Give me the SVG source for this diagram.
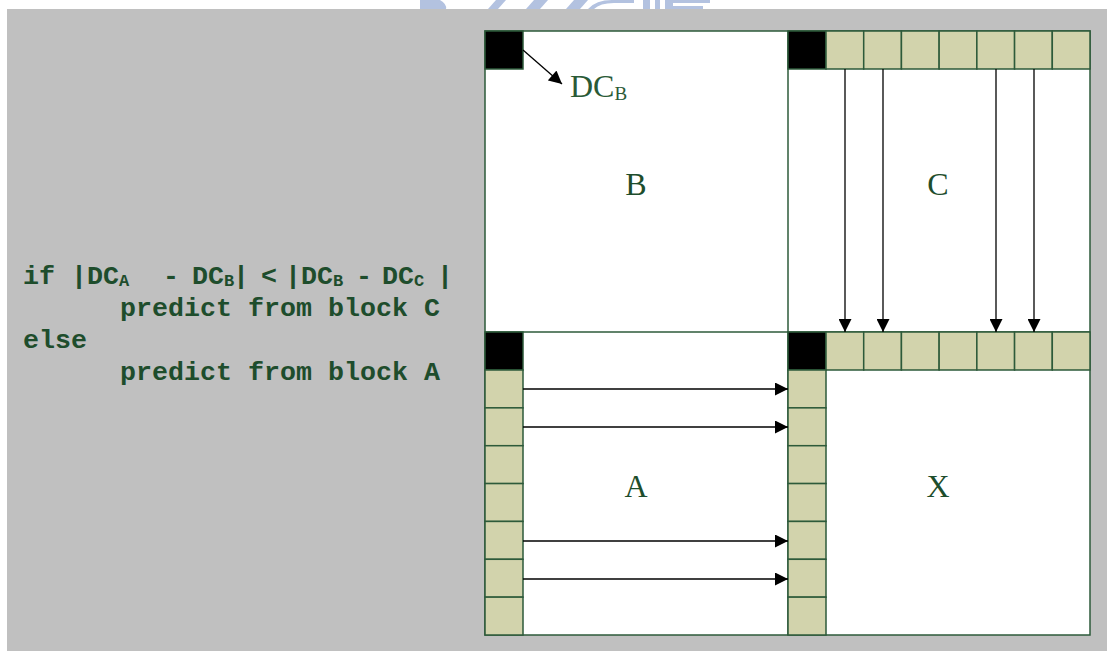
<svg xmlns="http://www.w3.org/2000/svg" width="1107" height="651" viewBox="0 0 1107 651">
<defs>
<style>
.cell{fill:#d2d3ac;stroke:#2d5a3a;stroke-width:1.5}
.blk{fill:#000;stroke:#2d5a3a;stroke-width:1.5}
.frame{fill:#fff;stroke:#2d5a3a;stroke-width:1.5}
.lbl{font-family:"Liberation Serif",serif;font-size:32px;fill:#1e4d2c;text-anchor:middle}
.code{font-family:"Liberation Mono",monospace;font-weight:bold;font-size:26.67px;fill:#1e4d2c}
.sub{font-size:17px}
.arr{stroke:#000;stroke-width:1.3;fill:none;marker-end:url(#ah)}
.wm{fill:#b3c2e0}
</style>
<marker id="ah" viewBox="0 0 12 13" refX="13" refY="6.5" markerWidth="13" markerHeight="13" markerUnits="userSpaceOnUse" orient="auto">
<path d="M0,0 L13,6.5 L0,13 Z" fill="#000"/>
</marker>
</defs>
<g id="watermark">
<path class="wm" d="M420,0 L440,0 Q447,4 446,9 L420,9 Z"/>
<path class="wm" d="M488,9 L496,0 L506,0 L498,9 Z"/>
<path class="wm" d="M526,9 L534,0 L548,0 L540,9 Z"/>
<path class="wm" d="M566,9 L574,0 L588,0 L580,9 Z"/>
<path class="wm" d="M588,9 Q596,0 612,0 L634,0 L634,3 L614,3 Q600,3 594,9 Z"/>
<rect class="wm" x="643" y="0" width="7" height="9"/>
<rect class="wm" x="655" y="0" width="5" height="9"/>
<rect class="wm" x="665" y="0" width="8" height="9"/>
<rect class="wm" x="673" y="0" width="37" height="3"/>
<rect class="wm" x="673" y="6" width="30" height="3"/>
</g>
<rect x="7" y="9" width="1100" height="642" fill="#c0c0c0"/>
<g id="code">
<text class="code" x="23" y="284">if |DC<tspan class="sub" dy="2">A</tspan><tspan dy="-2" x="163">-</tspan><tspan x="192">DC</tspan><tspan class="sub" dy="2">B</tspan><tspan dy="-2" x="233">|</tspan><tspan x="261">&lt;</tspan><tspan x="285">|DC</tspan><tspan class="sub" dy="2">B</tspan><tspan dy="-2" x="356">-</tspan><tspan x="382">DC</tspan><tspan class="sub" dy="2">C</tspan><tspan dy="-2" x="437">|</tspan></text>
<text class="code" x="120" y="316">predict from block C</text>
<text class="code" x="23" y="348">else</text>
<text class="code" x="120" y="380">predict from block A</text>
</g>
<g id="frame">
<rect class="frame" x="485" y="31" width="605" height="604"/>
<line x1="788" y1="31" x2="788" y2="635" stroke="#2d5a3a" stroke-width="1.5"/>
<line x1="485" y1="332" x2="1090" y2="332" stroke="#2d5a3a" stroke-width="1.5"/>
</g>
<g id="block-B">
<rect class="blk" x="485" y="31" width="38" height="38"/>
<text class="lbl" x="636" y="195">B</text>
</g>
<g id="block-C">
<rect class="blk" x="788" y="31" width="38" height="38"/>
<rect class="cell" x="826" y="31" width="37.71" height="38"/>
<rect class="cell" x="863.71" y="31" width="37.71" height="38"/>
<rect class="cell" x="901.43" y="31" width="37.71" height="38"/>
<rect class="cell" x="939.14" y="31" width="37.71" height="38"/>
<rect class="cell" x="976.86" y="31" width="37.71" height="38"/>
<rect class="cell" x="1014.57" y="31" width="37.71" height="38"/>
<rect class="cell" x="1052.29" y="31" width="37.71" height="38"/>
<text class="lbl" x="938" y="195">C</text>
</g>
<g id="block-A">
<rect class="blk" x="485" y="332" width="38" height="38"/>
<rect class="cell" x="485" y="370" width="38" height="37.86"/>
<rect class="cell" x="485" y="407.86" width="38" height="37.86"/>
<rect class="cell" x="485" y="445.71" width="38" height="37.86"/>
<rect class="cell" x="485" y="483.57" width="38" height="37.86"/>
<rect class="cell" x="485" y="521.43" width="38" height="37.86"/>
<rect class="cell" x="485" y="559.29" width="38" height="37.86"/>
<rect class="cell" x="485" y="597.14" width="38" height="37.86"/>
<text class="lbl" x="636" y="497">A</text>
</g>
<g id="block-X">
<rect class="blk" x="788" y="332" width="38" height="38"/>
<rect class="cell" x="826" y="332" width="37.71" height="38"/>
<rect class="cell" x="863.71" y="332" width="37.71" height="38"/>
<rect class="cell" x="901.43" y="332" width="37.71" height="38"/>
<rect class="cell" x="939.14" y="332" width="37.71" height="38"/>
<rect class="cell" x="976.86" y="332" width="37.71" height="38"/>
<rect class="cell" x="1014.57" y="332" width="37.71" height="38"/>
<rect class="cell" x="1052.29" y="332" width="37.71" height="38"/>
<rect class="cell" x="788" y="370" width="38" height="37.86"/>
<rect class="cell" x="788" y="407.86" width="38" height="37.86"/>
<rect class="cell" x="788" y="445.71" width="38" height="37.86"/>
<rect class="cell" x="788" y="483.57" width="38" height="37.86"/>
<rect class="cell" x="788" y="521.43" width="38" height="37.86"/>
<rect class="cell" x="788" y="559.29" width="38" height="37.86"/>
<rect class="cell" x="788" y="597.14" width="38" height="37.86"/>
<text class="lbl" x="938" y="497">X</text>
</g>
<g id="dcb-label">
<text x="570" y="97" font-family="Liberation Serif, serif" font-size="32" fill="#2a5a36">DC<tspan font-size="19" dy="3">B</tspan></text>
</g>
<g id="connectors">
<line class="arr" x1="523" y1="50" x2="562" y2="84"/>
<line class="arr" x1="845" y1="69" x2="845" y2="332"/>
<line class="arr" x1="883" y1="69" x2="883" y2="332"/>
<line class="arr" x1="996" y1="69" x2="996" y2="332"/>
<line class="arr" x1="1034" y1="69" x2="1034" y2="332"/>
<line class="arr" x1="523" y1="389" x2="788" y2="389"/>
<line class="arr" x1="523" y1="427" x2="788" y2="427"/>
<line class="arr" x1="523" y1="541" x2="788" y2="541"/>
<line class="arr" x1="523" y1="579" x2="788" y2="579"/>
</g>
</svg>
